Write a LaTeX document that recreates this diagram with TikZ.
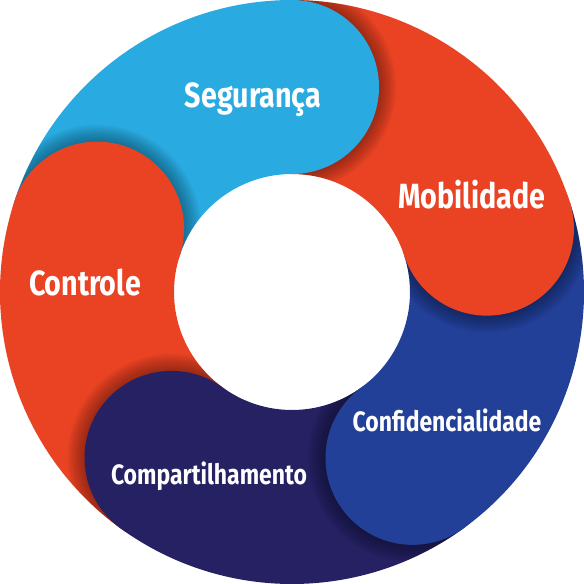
\documentclass[tikz,border=0pt]{standalone}
\usepackage{fontspec}
\setmainfont{Fira Sans}[FakeStretch=0.82]
\definecolor{cyanseg}{RGB}{41,170,225}
\definecolor{orangeseg}{RGB}{233,67,36}
\definecolor{blueseg}{RGB}{35,64,152}
\definecolor{navyseg}{RGB}{37,33,98}
\newcommand\ringsector[2]{(#1:292) arc[start angle=#1,end angle=#2,radius=292] -- (#2:118) arc[start angle=#2,end angle=#1,radius=118] -- cycle}
\begin{document}
\begin{tikzpicture}[x=1pt,y=1pt,
  lbl/.style={text=white,font=\bfseries\fontsize{35}{35}\selectfont,inner sep=0pt},
  lblsmall/.style={lbl,font=\bfseries\fontsize{28}{28}\selectfont}]
\fill[white] (-292,-292) rectangle (292,292);
\useasboundingbox (-292,-292) rectangle (292,292);
% bodies
\fill[cyanseg] \ringsector{90}{162};
\fill[orangeseg] \ringsector{18}{90};
\fill[blueseg] \ringsector{-54}{18};
\fill[navyseg] \ringsector{-126}{-54};
\fill[orangeseg] \ringsector{162}{234};
% shadows of caps onto next body
\foreach \a in {90,18,-54,-126,162}{
  \begin{scope}
    \pgfmathsetmacro\b{\a-72}
    \clip \ringsector{\b}{\a};
    \foreach \k in {1,...,10}
      \fill[black,opacity=0.035] (\a:205) circle[radius=87+1.7*\k];
  \end{scope}
}
% caps
\fill[cyanseg] (90:205) circle[radius=87];
\fill[orangeseg] (18:205) circle[radius=87];
\fill[blueseg] (-54:205) circle[radius=87];
\fill[navyseg] (-126:205) circle[radius=87];
\fill[orangeseg] (162:205) circle[radius=87];
% labels
\node[lbl] (seg) at (-39,192) {Segurança};
\node[lbl] (mob) at (180,97) {Mobilidade};
\node[lbl] (con) at (-207,9) {Controle};
\node[lblsmall] (conf) at (155,-128) {Confidencialidade};
\node[lblsmall] (comp) at (-83,-184) {Compartilhamento};
\end{tikzpicture}
\end{document}
